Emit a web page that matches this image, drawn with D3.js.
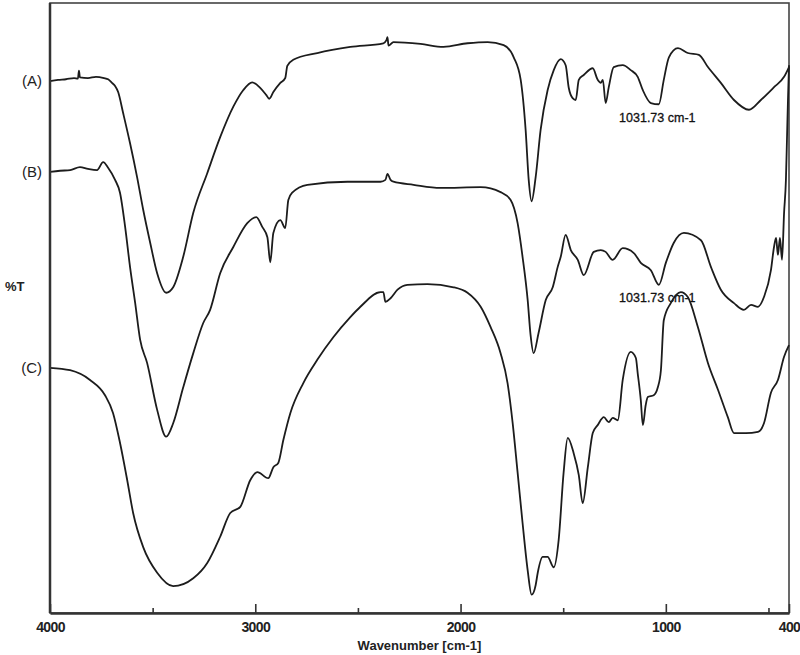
<!DOCTYPE html>
<html>
<head>
<meta charset="utf-8">
<script src="https://cdn.jsdelivr.net/npm/d3@7"></script>
<style>
  body { margin: 0; background: #fff; }
  svg { display: block; font-family: "Liberation Sans", Arial, sans-serif; }
</style>
</head>
<body>
<svg id="chart" width="800" height="655"></svg>
<script>
const majorTicks = [4000, 3000, 2000, 1000, 400];
const minorTicks = [3500, 2500, 1500, 500];
const seriesNames = ["(A)", "(B)", "(C)"];
const peakLabel = "1031.73 cm-1";
const peakWave = 1031.73;

// [wavenumber, %T] (offset, arbitrary units)
const specA = [
  [4000, 87.2], [3961, 87.4], [3922, 87.5], [3883, 87.7], [3864, 87.6], [3859, 88.9],
  [3854, 87.8], [3815, 87.7], [3776, 87.9], [3737, 87.7], [3717, 87.5], [3698, 86.9],
  [3683, 86.4], [3668, 85.4], [3644, 82.0], [3610, 77.0], [3576, 71.5], [3546, 66.1],
  [3512, 60.7], [3478, 55.7], [3434, 52.5], [3400, 53.4], [3351, 58.4], [3302, 65.6],
  [3234, 72.1], [3171, 78.0], [3107, 83.0], [3059, 85.7], [3015, 87.0], [2976, 86.1],
  [2946, 84.9], [2932, 84.3], [2912, 85.4], [2878, 86.9], [2854, 87.7], [2844, 89.7],
  [2815, 90.7], [2698, 91.8], [2537, 92.8], [2376, 93.4], [2361, 93.9], [2356, 94.4],
  [2351, 93.0], [2327, 93.6], [2195, 93.3], [2083, 92.8], [1966, 93.4], [1868, 93.6],
  [1790, 93.1], [1741, 91.1], [1707, 87.4], [1683, 79.2], [1668, 71.0], [1654, 67.5],
  [1634, 71.5], [1610, 79.2], [1576, 85.7], [1546, 89.0], [1512, 90.8], [1488, 89.8],
  [1473, 86.1], [1454, 84.4], [1439, 84.1], [1424, 87.4], [1400, 88.2], [1356, 89.3],
  [1332, 87.4], [1317, 86.9], [1307, 87.4], [1293, 83.6], [1278, 86.2], [1254, 89.5],
  [1210, 89.8], [1171, 89.0], [1137, 87.9], [1112, 85.7], [1073, 83.6], [1034, 83.4],
  [1010, 87.4], [985, 91.1], [941, 92.6], [893, 91.8], [839, 91.5], [795, 89.5],
  [732, 86.9], [668, 84.1], [595, 82.5], [537, 84.1], [473, 86.2], [424, 87.9],
  [400, 89.5]
];

const specB = [
  [4000, 72.3], [3951, 72.5], [3902, 72.6], [3854, 73.1], [3815, 72.8], [3771, 72.6],
  [3741, 73.9], [3717, 73.0], [3683, 71.0], [3659, 68.9], [3634, 63.3], [3610, 56.7],
  [3585, 50.8], [3561, 44.8], [3527, 41.0], [3478, 33.3], [3434, 28.9], [3400, 31.1],
  [3351, 37.0], [3302, 42.6], [3254, 47.5], [3220, 49.7], [3171, 55.7], [3107, 60.0],
  [3039, 63.9], [2995, 64.9], [2966, 63.3], [2941, 61.6], [2927, 57.5], [2912, 62.3],
  [2878, 64.4], [2854, 63.1], [2839, 67.7], [2820, 68.9], [2746, 70.2], [2551, 70.7],
  [2390, 70.7], [2366, 71.0], [2356, 72.0], [2341, 71.0], [2327, 70.7], [2229, 70.2],
  [2098, 69.7], [1902, 69.8], [1805, 69.0], [1756, 67.7], [1722, 63.9], [1698, 58.4],
  [1673, 51.3], [1659, 45.6], [1644, 42.6], [1620, 45.9], [1585, 51.3], [1551, 53.4],
  [1527, 56.7], [1512, 58.4], [1488, 62.0], [1463, 59.5], [1429, 57.9], [1400, 55.4],
  [1351, 59.2], [1317, 59.5], [1293, 59.2], [1259, 57.9], [1210, 59.8], [1156, 59.0],
  [1122, 57.4], [1073, 56.2], [1034, 53.8], [1000, 57.4], [961, 60.7], [912, 62.3],
  [829, 61.1], [780, 56.7], [732, 53.0], [668, 50.8], [620, 49.7], [585, 50.5],
  [551, 50.2], [522, 51.8], [488, 56.2], [473, 60.0], [463, 61.5], [454, 58.7],
  [444, 61.5], [434, 57.9], [424, 65.6], [415, 71.0], [410, 77.5], [405, 84.1],
  [400, 89.8]
];

const specC = [
  [4000, 40.2], [3902, 39.8], [3805, 38.2], [3732, 35.7], [3693, 32.8], [3659, 27.9],
  [3624, 21.8], [3595, 16.4], [3546, 10.8], [3478, 6.6], [3400, 4.4], [3302, 5.7],
  [3234, 8.2], [3171, 12.5], [3122, 16.4], [3073, 17.4], [3024, 21.8], [2990, 23.1],
  [2937, 22.1], [2912, 23.9], [2888, 24.6], [2863, 28.4], [2829, 32.8], [2766, 37.7],
  [2698, 41.5], [2620, 45.2], [2537, 48.5], [2488, 50.2], [2390, 52.6], [2376, 52.6],
  [2366, 51.0], [2341, 51.6], [2307, 53.0], [2259, 53.8], [2161, 53.9], [2034, 53.4],
  [1966, 52.5], [1902, 50.2], [1854, 46.9], [1805, 42.6], [1771, 37.7], [1746, 31.1],
  [1722, 23.0], [1698, 14.8], [1673, 7.0], [1654, 3.0], [1634, 4.6], [1624, 6.6],
  [1600, 9.2], [1576, 9.2], [1546, 7.5], [1522, 12.0], [1498, 23.0], [1478, 28.7],
  [1449, 26.2], [1424, 22.6], [1405, 18.0], [1380, 23.9], [1356, 29.5], [1332, 30.8],
  [1302, 32.1], [1278, 31.3], [1259, 32.0], [1234, 31.6], [1210, 38.2], [1171, 42.8],
  [1146, 41.8], [1137, 39.3], [1122, 34.9], [1112, 30.8], [1098, 34.1], [1088, 35.4],
  [1059, 35.7], [1039, 37.0], [1024, 39.8], [1010, 48.0], [976, 50.8], [927, 52.6],
  [893, 51.8], [844, 46.9], [795, 41.0], [746, 36.6], [698, 32.1], [668, 29.5],
  [610, 29.5], [551, 29.7], [522, 31.1], [488, 36.1], [454, 38.2], [424, 42.0],
  [400, 43.9]
];

const spectra = [specA, specB, specC];
const annotated = [specA, specB];

const width = 800;
const height = 655;
const margin = { top: 3, right: 11, bottom: 42, left: 50 };

const svg = d3.select("#chart");

const x = d3.scaleLinear()
  .domain([4000, 400])
  .range([margin.left, width - margin.right]);

const y = d3.scaleLinear()
  .domain([0, 100])
  .range([height - margin.bottom, margin.top]);

// frame
svg.append("rect")
  .attr("x", margin.left)
  .attr("y", margin.top)
  .attr("width", width - margin.left - margin.right)
  .attr("height", height - margin.top - margin.bottom)
  .attr("fill", "none")
  .attr("stroke", "#444")
  .attr("stroke-width", 1.6);

// annotations under the curves
annotated.forEach((s) => {
  const near = s.reduce((a, b) => Math.abs(b[0] - peakWave) < Math.abs(a[0] - peakWave) ? b : a);
  svg.append("text")
    .attr("x", x(peakWave) - 2)
    .attr("y", y(near[1]) + 14)
    .attr("dominant-baseline", "middle")
    .attr("text-anchor", "middle")
    .style("font-size", "12.5px")
    .style("fill", "#111")
    .style("stroke", "#111")
    .style("stroke-width", "0.3px")
    .text(peakLabel);
});

const line = d3.line()
  .x((d) => x(d[0]))
  .y((d) => y(d[1]))
  .curve(d3.curveMonotoneX);

svg.append("g")
  .selectAll("path")
  .data(spectra)
  .join("path")
  .attr("fill", "none")
  .attr("stroke", "#1c1c1c")
  .attr("stroke-width", 1.8)
  .attr("stroke-linejoin", "round")
  .attr("d", line);

// series labels at curve start
svg.append("g")
  .selectAll("text")
  .data(spectra)
  .join("text")
  .attr("x", margin.left - 8)
  .attr("y", (d) => y(d[0][1]) + 1)
  .attr("text-anchor", "end")
  .attr("dominant-baseline", "middle")
  .style("font-size", "15px")
  .style("fill", "#222")
  .text((d, i) => seriesNames[i]);

// axes
const xAxis = (g) => g.attr("transform", `translate(0,${height - margin.bottom})`)
  .call(d3.axisBottom(x).tickValues(majorTicks).tickSize(-9).tickSizeOuter(0).tickPadding(9).tickFormat(d3.format("d")))
  .call((g) => g.select(".domain").attr("stroke-width", 2.5))
  .call((g) => g.selectAll(".tick line").attr("stroke-width", 1.6))
  .call((g) => g.selectAll("text")
    .style("font-size", "14px")
    .style("font-weight", "bold")
    .style("letter-spacing", "-0.6px")
    .style("fill", "#222"));

const xMinor = (g) => g.attr("transform", `translate(0,${height - margin.bottom})`)
  .call(d3.axisBottom(x).tickValues(minorTicks).tickSize(-5).tickSizeOuter(0).tickFormat(""))
  .call((g) => g.select(".domain").remove())
  .call((g) => g.selectAll(".tick line").attr("stroke-width", 1.6));

svg.append("g").call(xAxis).attr("color", "#333");
svg.append("g").call(xMinor).attr("color", "#333");

svg.append("line")
  .attr("x1", margin.left).attr("x2", margin.left)
  .attr("y1", margin.top).attr("y2", height - margin.bottom)
  .attr("stroke", "#333")
  .attr("stroke-width", 2.5);

svg.append("text")
  .attr("x", (margin.left + width - margin.right) / 2)
  .attr("y", 647)
  .attr("text-anchor", "middle")
  .attr("dominant-baseline", "middle")
  .style("font-size", "13px")
  .style("font-weight", "bold")
  .style("fill", "#222")
  .text("Wavenumber [cm-1]");

svg.append("text")
  .attr("x", 5)
  .attr("y", 288)
  .attr("dominant-baseline", "middle")
  .style("font-size", "13px")
  .style("font-weight", "bold")
  .style("fill", "#222")
  .text("%T");
</script>
</body>
</html>
